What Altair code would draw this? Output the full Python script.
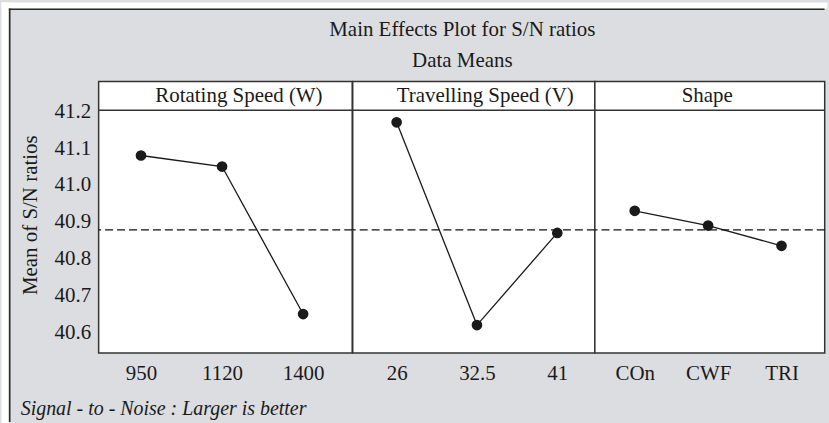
import altair as alt
import pandas as pd

# ---------------- data ----------------
rot_levels = ["950", "1120", "1400"]
rot_sn = [41.08, 41.05, 40.65]
trav_levels = ["26", "32.5", "41"]
trav_sn = [41.17, 40.62, 40.87]
shape_levels = ["COn", "CWF", "TRI"]
shape_sn = [40.93, 40.89, 40.835]
grand_mean = [40.878]
y_ticks = [40.6, 40.7, 40.8, 40.9, 41.0, 41.1, 41.2]
factor_names = ["Rotating Speed (W)", "Travelling Speed (V)", "Shape"]
title_text = "Main Effects Plot for S/N ratios"
subtitle_text = "Data Means"
footer_text = "Signal - to - Noise : Larger is better"
y_title = "Mean of S/N ratios"

# ---------------- style / layout ----------------
FONT = "Liberation Serif"
FS = 21
INK = "#1a1a1a"
FRAME = "#333333"
H = 272.4
STRIP = 29
Y_DOMAIN = [40.5446, 41.2808]
widths = [254.5, 243, 230.7]
x_pad = [0.564, 0.507, 0.566]
x_align = [0.463, 0.539, 0.48]
strip_cx = [140.8, 133, 112.8]
OX, OY = 97.5, 79.3          # page position of first panel's origin
PAGE_W, PAGE_H = 829, 423


def panel(i, levels, values):
    first = i == 0
    df = pd.DataFrame({"level": levels, "sn": values})
    x = alt.X(
        "level:N", sort=levels,
        scale=alt.Scale(type="point", padding=x_pad[i], align=x_align[i]),
        axis=alt.Axis(title=None, ticks=False, tickSize=0, domain=False, grid=False,
                      labelAngle=0, labelFont=FONT, labelFontSize=FS, labelColor=INK,
                      labelBaseline="alphabetic", labelPadding=26.3),
    )
    yscale = alt.Scale(domain=Y_DOMAIN, nice=False, zero=False)
    if first:
        yaxis = alt.Axis(values=y_ticks, format=".1f", ticks=False, tickSize=0, domain=False,
                         grid=False, labelFont=FONT, labelFontSize=FS, labelColor=INK,
                         labelPadding=8, title=y_title, titleFont=FONT, titleFontSize=FS,
                         titleFontWeight="normal", titleColor=INK, titleAngle=270,
                         titleX=35 - OX, titleY=213 - OY, titleAlign="center",
                         titleBaseline="alphabetic", zindex=1)
    else:
        yaxis = None

    base = alt.Chart(df)
    line = base.mark_line(color=INK, strokeWidth=1.3).encode(
        x=x, y=alt.Y("sn:Q", scale=yscale, axis=yaxis))
    pts = base.mark_circle(size=115, color=INK, opacity=1).encode(
        x=x, y=alt.Y("sn:Q", scale=yscale, axis=yaxis))
    mean = alt.Chart(pd.DataFrame({"sn": grand_mean})).mark_rule(
        color="#111111", strokeWidth=1.3, strokeDash=[8, 4]).encode(
        y=alt.Y("sn:Q", scale=yscale, axis=yaxis))
    lab = pd.DataFrame({"t": [factor_names[i]]})
    sep = alt.Chart(lab).mark_rule(color=FRAME, strokeWidth=1.5).encode(
        x=alt.value(0), x2=alt.value(widths[i]), y=alt.value(STRIP))
    head = alt.Chart(lab).mark_text(font=FONT, fontSize=FS, color=INK, align="center",
                                    baseline="alphabetic").encode(
        x=alt.value(strip_cx[i]), y=alt.value(20.7), text="t:N")
    layers = [mean, line, pts, sep, head]

    if first:
        d = pd.DataFrame({"title": [title_text], "sub": [subtitle_text], "foot": [footer_text]})
        margin_top = alt.Chart(d).mark_rect(color="white").encode(
            x=alt.value(-OX), x2=alt.value(PAGE_W - OX),
            y=alt.value(-OY), y2=alt.value(6 - OY))
        margin_left = alt.Chart(d).mark_rect(color="white").encode(
            x=alt.value(-OX), x2=alt.value(8 - OX),
            y=alt.value(-OY), y2=alt.value(PAGE_H - OY))
        frame_top = alt.Chart(d).mark_rule(color="#2a2a2a", strokeWidth=1.7).encode(
            x=alt.value(7.4 - OX), x2=alt.value(PAGE_W - 3 - OX), y=alt.value(6.8 - OY))
        frame_left = alt.Chart(d).mark_rule(color="#2a2a2a", strokeWidth=1.7).encode(
            x=alt.value(8.2 - OX), y=alt.value(6 - OY), y2=alt.value(PAGE_H - 2 - OY))
        t1 = alt.Chart(d).mark_text(font=FONT, fontSize=FS, color=INK, align="center",
                                    baseline="alphabetic").encode(
            x=alt.value(462.5 - OX), y=alt.value(33.3 - OY), text="title:N")
        t2 = alt.Chart(d).mark_text(font=FONT, fontSize=FS, color=INK, align="center",
                                    baseline="alphabetic").encode(
            x=alt.value(462.5 - OX), y=alt.value(65 - OY), text="sub:N")
        t3 = alt.Chart(d).mark_text(font=FONT, fontSize=20, fontStyle="italic", color=INK,
                                    align="left", baseline="alphabetic").encode(
            x=alt.value(19.3 - OX), y=alt.value(414 - OY), text="foot:N")
        layers += [margin_top, margin_left, frame_top, frame_left, t1, t2, t3]

    return alt.layer(*layers).properties(width=widths[i], height=H)


p1 = panel(0, rot_levels, rot_sn)
p2 = panel(1, trav_levels, trav_sn)
p3 = panel(2, shape_levels, shape_sn)

chart = alt.hconcat(p1, p2, p3, spacing=0, bounds="flush").properties(
    padding=0, background="#dcdde1"
).configure_view(
    stroke=FRAME, strokeWidth=1.5, fill="white"
)

chart.save("out.html", embed_options={"renderer": "svg", "actions": False})
